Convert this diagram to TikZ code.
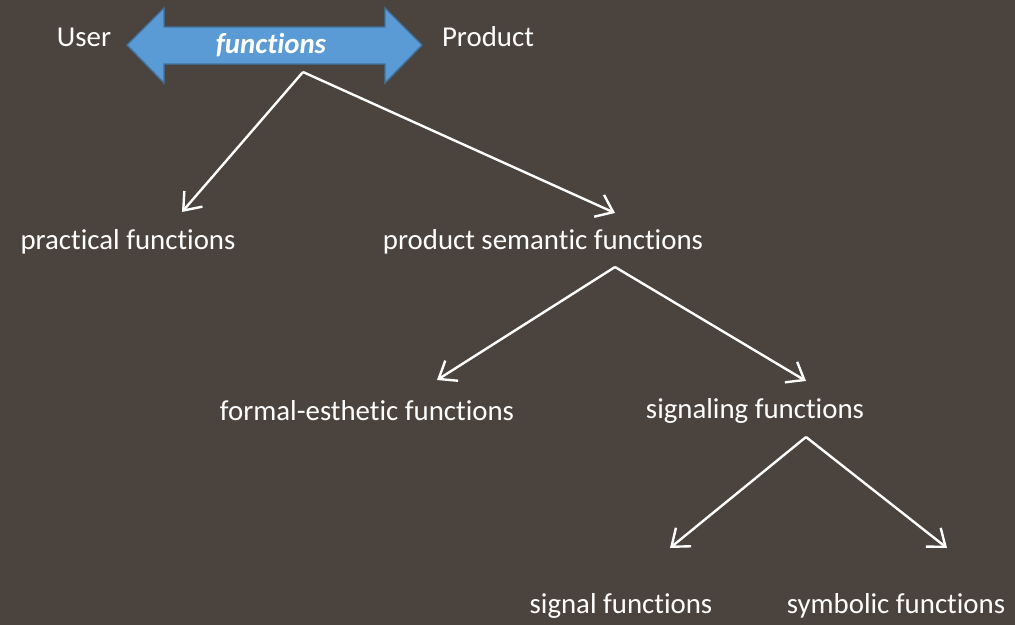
\documentclass[tikz,border=0pt]{standalone}
\usepackage{fontspec}
\setmainfont[RawFeature={-liga}]{Carlito}
\usepackage{tikz}
\usetikzlibrary{arrows.meta, positioning, calc}
\definecolor{bgbrown}{HTML}{4B443E}
\definecolor{arrowblue}{HTML}{5B9BD5}
\definecolor{arrowedge}{HTML}{41719C}

\begin{document}
\begin{tikzpicture}[x=0.025cm, y=-0.025cm,
    label/.style={text=white, font=\fontsize{20.5}{24}\selectfont, inner sep=0pt},
    arrow/.style={-{Straight Barb[length=11pt, width=17pt, line width=1.7pt]}, draw=white, line width=1.7pt}
]
    \fill[bgbrown] (0,0) rectangle (1015,625);
    \useasboundingbox (0,0) rectangle (1015,625);
    % blue double arrow
    \draw[fill=arrowblue, draw=arrowedge, line width=1pt]
        (127,45) -- (164,8) -- (164,27) -- (385,27) -- (385,8) -- (422,45)
        -- (385,83) -- (385,64) -- (164,64) -- (164,83) -- cycle;
    \node[label, font=\fontsize{20.5}{24}\selectfont\bfseries\itshape] (fn) at (271,45) {functions};
    \node[label] (user) at (84,37) {User};
    \node[label] (product) at (488,37) {Product};
    % tree labels
    \node[label] (practical) at (128,242) {practical functions};
    \node[label] (semantic) at (543,242) {product semantic functions};
    \node[label] (formal) at (367,411) {formal-esthetic functions};
    \node[label] (signaling) at (755,411) {signaling functions};
    \node[label] (signal) at (621,606) {signal functions};
    \node[label] (symbolic) at (896,606) {symbolic functions};
    % branch points and tips
    \coordinate (top) at (303,72);
    \coordinate (semtop) at (615,267);
    \coordinate (sigtop) at (806,437);
    \coordinate (practip) at (182,212);
    \coordinate (semtip) at (615,213);
    \coordinate (formtip) at (437,380);
    \coordinate (sigtip) at (806,381);
    \coordinate (signaltip) at (670,548);
    \coordinate (symtip) at (947,548);
    \draw[arrow] (top) -- (practip);
    \draw[arrow] (top) -- (semtip);
    \draw[arrow] (semtop) -- (formtip);
    \draw[arrow] (semtop) -- (sigtip);
    \draw[arrow] (sigtop) -- (signaltip);
    \draw[arrow] (sigtop) -- (symtip);
\end{tikzpicture}
\end{document}
